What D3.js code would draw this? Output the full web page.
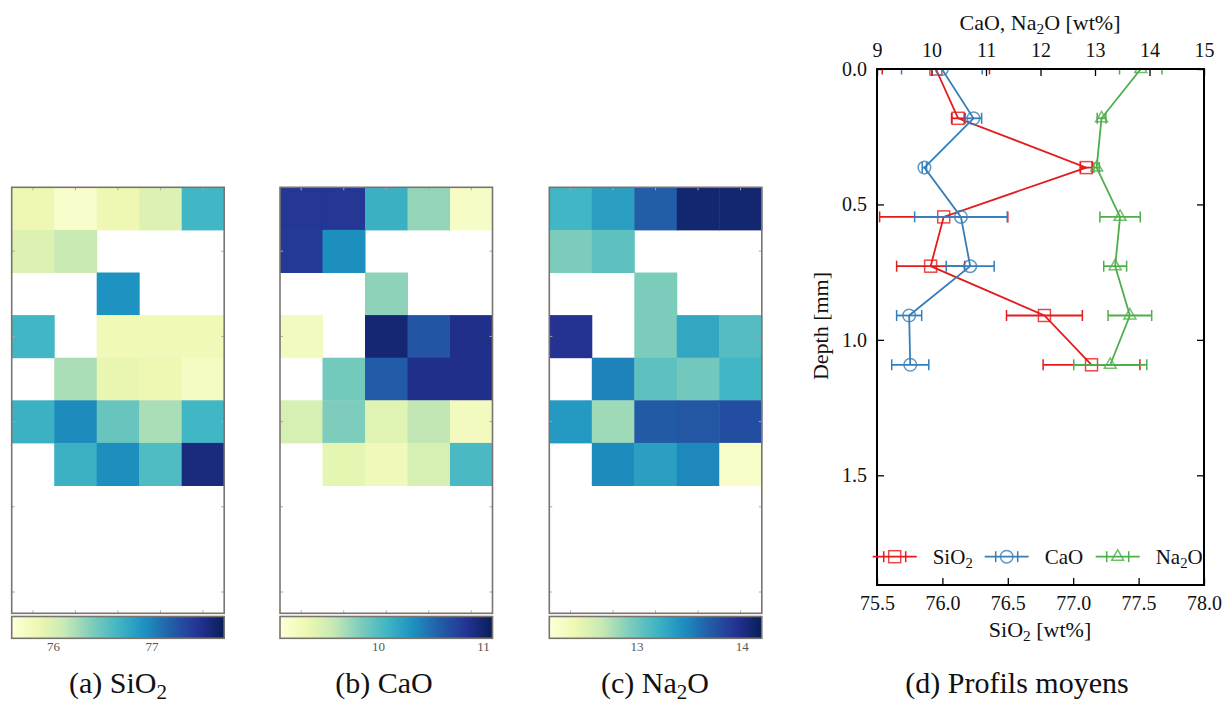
<!DOCTYPE html>
<html><head><meta charset="utf-8">
<script src="https://cdn.jsdelivr.net/npm/d3@7"></script>
<style>
body{margin:0;background:#fff}
svg{display:block}
text{font-family:"Liberation Serif","DejaVu Serif","Times New Roman",serif;fill:#111}
</style>
</head><body>
<svg id="c" width="1224" height="704"></svg>
<script>
// ---------- Data: mean profiles ----------
const depth   = [0, 0.182, 0.364, 0.546, 0.728, 0.910, 1.092];
const sio2    = [75.95, 76.12, 77.10, 76.01, 75.91, 76.78, 77.14];
const sio2Err = [0.41, 0.05, 0.045, 0.49, 0.26, 0.29, 0.37];
const cao     = [10.19, 10.77, 9.87, 10.54, 10.71, 9.59, 9.61];
const caoErr  = [0.74, 0.15, 0.04, 0.85, 0.44, 0.23, 0.34];
const na2o    = [13.84, 13.12, 13.03, 13.46, 13.37, 13.64, 13.28];
const na2oErr = [0.39, 0.08, 0.05, 0.37, 0.21, 0.40, 0.67];

const caoTicks   = [9, 10, 11, 12, 13, 14, 15];
const sio2Ticks  = [75.5, 76.0, 76.5, 77.0, 77.5, 78.0];
const depthTicks = [0.0, 0.5, 1.0, 1.5];

// ---------- Data: maps (10 rows x 5 columns, null = no data) ----------
const E = [null, null, null, null, null];
const sio2Grid = [
  [75.84, 75.67, 75.84, 75.97, 76.66],
  [75.97, 76.10, null, null, null],
  [null, null, 76.92, null, null],
  [76.66, null, 75.80, 75.80, 75.80],
  [null, 76.23, 75.88, 75.84, 75.73],
  [76.70, 76.96, 76.49, 76.23, 76.66],
  [null, 76.70, 76.94, 76.60, 77.57],
  E, E, E
];
const caoGrid = [
  [10.82, 10.82, 10.12, 9.75, 9.19],
  [10.80, 10.34, null, null, null],
  [null, null, 9.77, null, null],
  [9.23, null, 10.98, 10.64, 10.88],
  [null, 9.87, 10.60, 10.88, 10.88],
  [9.47, 9.83, 9.41, 9.59, 9.23],
  [null, 9.37, 9.27, 9.47, 10.04],
  E, E, E
];
const na2oGrid = [
  [13.18, 13.34, 13.69, 14.09, 14.09],
  [12.94, 13.06, null, null, null],
  [null, null, 12.94, null, null],
  [13.95, null, 12.94, 13.28, 13.10],
  [null, 13.50, 13.06, 12.98, 13.18],
  [13.38, 12.82, 13.71, 13.73, 13.79],
  [null, 13.46, 13.34, 13.48, 12.27],
  E, E, E
];
const sio2Range = [75.58, 77.74], sio2CbTicks = [76, 77];
const caoRange  = [9.065, 11.09], caoCbTicks  = [10, 11];
const na2oRange = [12.17, 14.19], na2oCbTicks = [13, 14];

// ---------- helpers ----------
const FONT = '"Liberation Serif","DejaVu Serif","Times New Roman",serif';
const cmap = d3.piecewise(d3.interpolateRgb, d3.schemeYlGnBu[9]);
const svg = d3.select("#c");
function rich(sel, parts, fs) {
  let wasSub = false;
  parts.forEach(([s, sub]) => {
    const t = sel.append("tspan").text(s);
    if (sub) t.attr("font-size", fs * 0.7).attr("dy", fs * 0.2);
    else if (wasSub) t.attr("dy", -fs * 0.2);
    wasSub = !!sub;
  });
  return sel;
}

// ---------- heatmaps ----------
const panels = [
  {grid: sio2Grid, range: sio2Range, cb: sio2CbTicks, x0: 11.7, cap: [["(a) SiO"], ["2", true]], cx: 118},
  {grid: caoGrid,  range: caoRange,  cb: caoCbTicks,  x0: 280,  cap: [["(b) CaO"]], cx: 384},
  {grid: na2oGrid, range: na2oRange, cb: na2oCbTicks, x0: 549.3, cap: [["(c) Na"], ["2", true], ["O"]], cx: 655}
];
const hmW = 212.5, hmTop = 187.3, hmH = 426, cbTop = 616.5, cbH = 21.8;
const cols = d3.range(5), rows = d3.range(10);

panels.forEach((p, pi) => {
  const g = svg.append("g");
  const xb = d3.scaleBand().domain(cols).range([p.x0, p.x0 + hmW]);
  const yb = d3.scaleBand().domain(rows).range([hmTop, hmTop + hmH]);
  const color = d3.scaleSequential(cmap).domain(p.range);
  const cells = [];
  p.grid.forEach((r, ri) => r.forEach((v, ci) => { if (v !== null) cells.push({r: ri, c: ci, v}); }));
  g.selectAll("rect.cell").data(cells).join("rect")
    .attr("x", d => xb(d.c)).attr("y", d => yb(d.r))
    .attr("width", xb.bandwidth() + 0.5).attr("height", yb.bandwidth() + 0.5)
    .attr("fill", d => color(d.v));
  const tickRows = [1, 3, 5, 7, 9];
  const tk = g.append("g").attr("stroke", "#aaa").attr("stroke-width", 1);
  cols.forEach(c => {
    const x = xb(c) + xb.bandwidth() / 2;
    tk.append("line").attr("x1", x).attr("x2", x).attr("y1", hmTop).attr("y2", hmTop + 3);
    tk.append("line").attr("x1", x).attr("x2", x).attr("y1", hmTop + hmH).attr("y2", hmTop + hmH - 3);
  });
  tickRows.forEach(r => {
    const y = yb(r) + yb.bandwidth() / 2;
    tk.append("line").attr("x1", p.x0).attr("x2", p.x0 + 3).attr("y1", y).attr("y2", y);
    tk.append("line").attr("x1", p.x0 + hmW).attr("x2", p.x0 + hmW - 3).attr("y1", y).attr("y2", y);
  });
  g.append("rect").attr("x", p.x0).attr("y", hmTop).attr("width", hmW).attr("height", hmH)
    .attr("fill", "none").attr("stroke", "#7a7470").attr("stroke-width", 1.6);
  // colorbar
  const gid = "grad" + pi;
  const grad = svg.append("defs").append("linearGradient").attr("id", gid);
  d3.range(0, 1.0001, 0.025).forEach(t => grad.append("stop").attr("offset", t).attr("stop-color", cmap(t)));
  g.append("rect").attr("x", p.x0).attr("y", cbTop).attr("width", hmW).attr("height", cbH)
    .attr("fill", `url(#${gid})`).attr("stroke", "#7a7470").attr("stroke-width", 1.6);
  const cbx = d3.scaleLinear().domain(p.range).range([p.x0, p.x0 + hmW]);
  g.append("g").attr("transform", `translate(0,${cbTop + cbH})`)
    .call(d3.axisBottom(cbx).tickValues(p.cb).tickSize(0).tickPadding(3).tickFormat(d3.format("d")))
    .call(a => a.select(".domain").remove())
    .call(a => a.attr("font-family", FONT))
    .selectAll("text").attr("font-size", 13).style("fill", "#555");
  const cap = svg.append("text").attr("x", p.cx).attr("y", 693).attr("text-anchor", "middle").attr("font-size", 30);
  rich(cap, p.cap, 30);
});

// ---------- profile chart ----------
const L = 877, R = 1204, T = 69, B = 585;
const xTop = d3.scaleLinear().domain([9, 15]).range([L, R]);
const xBot = d3.scaleLinear().domain([75.5, 78]).range([L, R]);
const yD = d3.scaleLinear().domain([0, 1.905]).range([T, B]);
const pc = svg.append("g");

function styleAxis(a) {
  a.attr("font-family", FONT);
  a.select(".domain").remove();
  a.selectAll("line").attr("stroke", "#000").attr("stroke-width", 1.3);
  a.selectAll("text").attr("font-size", 20);
}
pc.append("g").attr("transform", `translate(0,${T})`)
  .call(d3.axisTop(xTop).tickValues(caoTicks).tickSizeInner(-7).tickSizeOuter(0).tickPadding(12).tickFormat(d3.format("d")))
  .call(styleAxis);
pc.append("g").attr("transform", `translate(0,${B})`)
  .call(d3.axisBottom(xBot).tickValues(sio2Ticks).tickSizeInner(-7).tickSizeOuter(0).tickPadding(11).tickFormat(d3.format(".1f")))
  .call(styleAxis);
pc.append("g").attr("transform", `translate(${L},0)`)
  .call(d3.axisLeft(yD).tickValues(depthTicks).tickSizeInner(-7).tickSizeOuter(0).tickPadding(10).tickFormat(d3.format(".1f")))
  .call(styleAxis);
pc.append("g").attr("transform", `translate(${R},0)`)
  .call(d3.axisRight(yD).tickValues(depthTicks).tickSizeInner(-7).tickSizeOuter(0).tickFormat(""))
  .call(styleAxis);

const tTop = pc.append("text").attr("x", 1040).attr("y", 30).attr("text-anchor", "middle").attr("font-size", 22);
rich(tTop, [["CaO, Na"], ["2", true], ["O [wt%]"]], 22);
const tBot = pc.append("text").attr("x", 1040).attr("y", 637).attr("text-anchor", "middle").attr("font-size", 22);
rich(tBot, [["SiO"], ["2", true], [" [wt%]"]], 22);
pc.append("text").attr("transform", "translate(828,326) rotate(-90)").attr("text-anchor", "middle")
  .attr("font-size", 22).text("Depth [mm]");

const series = [
  {vals: sio2, err: sio2Err, sx: xBot, color: "#e41a1c", shape: "square", label: [["SiO"], ["2", true]]},
  {vals: cao,  err: caoErr,  sx: xTop, color: "#377eb8", shape: "circle", label: [["CaO"]]},
  {vals: na2o, err: na2oErr, sx: xTop, color: "#4daf4a", shape: "triangle", label: [["Na"], ["2", true], ["O"]]}
];
svg.append("defs").append("clipPath").attr("id", "plotclip")
  .append("rect").attr("x", L).attr("y", T).attr("width", R - L).attr("height", B - T);
const plot = pc.append("g").attr("clip-path", "url(#plotclip)");

function marker(g, shape, color) {
  let m;
  if (shape === "square") m = g.append("rect").attr("x", -6).attr("y", -6).attr("width", 12).attr("height", 12);
  else if (shape === "circle") m = g.append("circle").attr("r", 6.3);
  else m = g.append("path").attr("d", d3.symbol(d3.symbolTriangle, 62)());
  m.attr("fill", "none").attr("stroke", color).attr("stroke-width", 1.5).attr("stroke-opacity", 0.8);
}

series.forEach(s => {
  const pts = s.vals.map((v, i) => ({v, e: s.err[i], d: depth[i]}));
  const g = plot.append("g");
  pts.forEach(p => {
    const y = yD(p.d), x1 = s.sx(p.v - p.e), x2 = s.sx(p.v + p.e);
    g.append("line").attr("x1", x1).attr("x2", x2).attr("y1", y).attr("y2", y)
      .attr("stroke", s.color).attr("stroke-width", 1.8);
    [x1, x2].forEach(x => g.append("line").attr("x1", x).attr("x2", x).attr("y1", y - 5.5).attr("y2", y + 5.5)
      .attr("stroke", s.color).attr("stroke-width", 1.5));
  });
  g.append("path").datum(pts)
    .attr("d", d3.line().x(p => s.sx(p.v)).y(p => yD(p.d)))
    .attr("fill", "none").attr("stroke", s.color).attr("stroke-width", 1.8);
  pts.forEach(p => marker(g.append("g").attr("transform", `translate(${s.sx(p.v)},${yD(p.d)})`), s.shape, s.color));
});

pc.append("rect").attr("x", L).attr("y", T).attr("width", R - L).attr("height", B - T)
  .attr("fill", "none").attr("stroke", "#000").attr("stroke-width", 2);

const legY = 556.7;
const legX = [894.7, 1006.7, 1117.7];
series.forEach((s, i) => {
  const cx = legX[i];
  const g = pc.append("g");
  g.append("line").attr("x1", cx - 22).attr("x2", cx + 22).attr("y1", legY).attr("y2", legY)
    .attr("stroke", s.color).attr("stroke-width", 1.8);
  [cx - 11, cx + 11].forEach(x => g.append("line").attr("x1", x).attr("x2", x).attr("y1", legY - 5.5).attr("y2", legY + 5.5)
    .attr("stroke", s.color).attr("stroke-width", 1.5));
  marker(g.append("g").attr("transform", `translate(${cx},${legY})`), s.shape, s.color);
  const t = g.append("text").attr("x", cx + 38).attr("y", legY + 7).attr("font-size", 21);
  rich(t, s.label, 21);
});

svg.append("text").attr("x", 1017).attr("y", 693).attr("text-anchor", "middle").attr("font-size", 30)
  .text("(d) Profils moyens");
</script>
</body></html>
